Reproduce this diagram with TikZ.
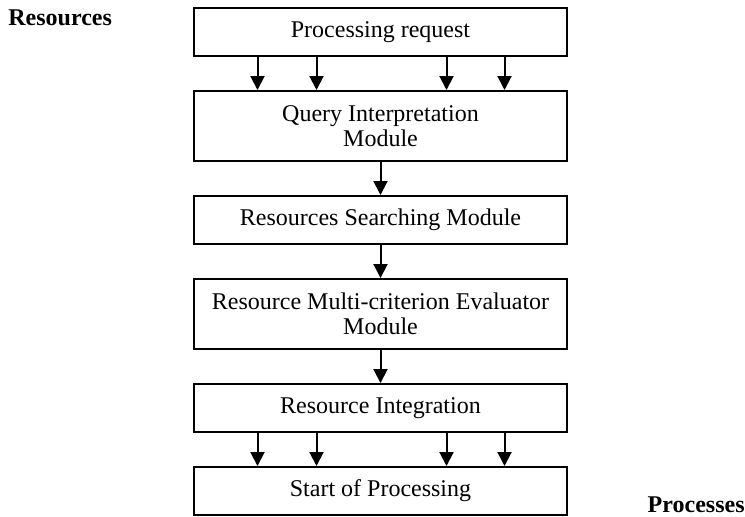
\documentclass[tikz,border=0pt]{standalone}
\usepackage{fontspec}
\setmainfont{Liberation Serif}
\usetikzlibrary{positioning,arrows.meta}

\begin{document}
\begin{tikzpicture}[x=0.5pt, y=-0.5pt,
				module/.style={rectangle, draw=black, line width=1pt, minimum width=186.5pt, minimum height=24pt, inner sep=0pt, align=center, font=\fontsize{12}{12.5}\selectfont},
				twoline/.style={module, minimum height=35pt},
				side/.style={rectangle, inner sep=0pt, font=\fontsize{12}{14}\selectfont\bfseries},
				flow/.style={line width=1pt, -{Triangle[length=7pt,width=7pt]}},
				node distance=16.5pt
			]
			\useasboundingbox (0,0) rectangle (745,516);
			\node[module] (request) at (380.5,32) {Processing request};
			\node[twoline] (query) [below=of request] {Query Interpretation\\Module};
			\node[module] (search) [below=of query] {Resources Searching Module};
			\node[twoline] (evaluator) [below=of search] {Resource Multi-criterion Evaluator\\Module};
			\node[module] (integration) [below=of evaluator] {Resource Integration};
			\node[module] (start) [below=of integration] {Start of Processing};
			\node[side, anchor=base west] (resources) at (8,25) {Resources};
			\node[side, anchor=base east] (processes) at (745,512) {Processes};
			\foreach \dx in {-61.5pt,-32pt,33pt,62pt} {
				\draw[flow] ([xshift=\dx]request.south) -- ([xshift=\dx]query.north);
				\draw[flow] ([xshift=\dx]integration.south) -- ([xshift=\dx]start.north);
			}
			\draw[flow] (query) -- (search);
			\draw[flow] (search) -- (evaluator);
			\draw[flow] (evaluator) -- (integration);
\end{tikzpicture}
\end{document}
